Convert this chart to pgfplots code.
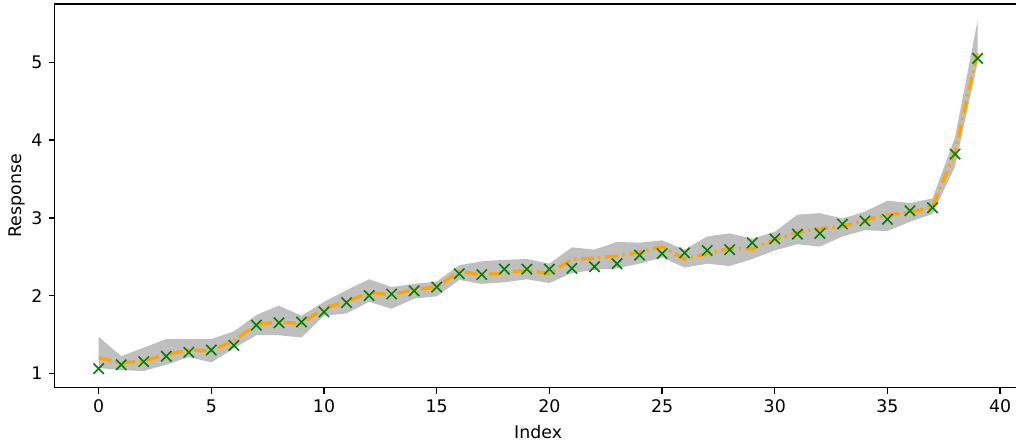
\documentclass[border=0pt]{standalone}
\usepackage{fontspec}
\setmainfont{DejaVu Sans}
\usepackage{pgfplots}
\pgfplotsset{compat=1.18}
\usepackage{pgfplotstable}
\usepgfplotslibrary{fillbetween}
\usetikzlibrary{calc}

\definecolor{mplorange}{HTML}{FFA500}
\definecolor{mplgreen}{HTML}{008000}
\definecolor{band}{HTML}{BFBFBF}

% idx, mean line, observed (x marks), band low, band high
\pgfplotstableread{
idx mean obs lo hi
0  1.20 1.06 1.07 1.47
1  1.13 1.11 1.04 1.22
2  1.16 1.15 1.03 1.33
3  1.24 1.22 1.11 1.44
4  1.30 1.27 1.21 1.44
5  1.29 1.30 1.14 1.44
6  1.42 1.36 1.32 1.54
7  1.63 1.62 1.49 1.75
8  1.66 1.65 1.49 1.87
9  1.64 1.66 1.46 1.74
10 1.84 1.79 1.74 1.92
11 1.92 1.91 1.77 2.07
12 2.04 2.00 1.92 2.21
13 2.01 2.02 1.83 2.11
14 2.08 2.06 1.96 2.15
15 2.11 2.11 1.99 2.18
16 2.31 2.28 2.20 2.39
17 2.27 2.27 2.15 2.44
18 2.29 2.34 2.17 2.46
19 2.33 2.34 2.21 2.47
20 2.28 2.34 2.16 2.41
21 2.47 2.35 2.29 2.62
22 2.48 2.37 2.33 2.59
23 2.51 2.41 2.35 2.69
24 2.56 2.52 2.41 2.68
25 2.63 2.54 2.49 2.71
26 2.47 2.55 2.36 2.59
27 2.54 2.58 2.41 2.76
28 2.61 2.59 2.38 2.80
29 2.60 2.68 2.47 2.73
30 2.72 2.73 2.58 2.82
31 2.81 2.79 2.66 3.04
32 2.86 2.80 2.63 3.06
33 2.89 2.92 2.76 2.99
34 2.97 2.96 2.84 3.08
35 3.04 2.98 2.83 3.22
36 3.07 3.09 2.95 3.19
37 3.14 3.13 3.05 3.25
38 3.85 3.82 3.66 4.04
39 5.14 5.05 5.00 5.54
}\data

\begin{document}
\begin{tikzpicture}
\begin{axis}[
  scale only axis,
  width=556.9pt, height=221pt,
  xmin=-1.95, xmax=40.95,
  ymin=0.815, ymax=5.75,
  xtick={0,5,...,40},
  ytick={1,2,3,4,5},
  tick align=outside,
  major tick length=3.5pt,
  every tick/.style={black, line width=0.8pt},
  axis line style={line width=0.8pt},
  xtick pos=bottom, ytick pos=left,
  tick label style={font=\fontsize{10}{12}\selectfont},
  label style={font=\fontsize{10}{12}\selectfont},
  /pgf/number format/assume math mode=true,
  xlabel={Index},
  ylabel={Response},
  ylabel shift=-3pt,
]
\addplot[draw=none, name path=lo, forget plot] table[x=idx, y=lo] {\data};
\addplot[draw=none, name path=hi, forget plot] table[x=idx, y=hi] {\data};
\addplot[fill=band, draw=none, forget plot] fill between[of=lo and hi];
\addplot[mplorange, line width=1.9pt, no marks,
  dash pattern=on 7.5pt off 2.6pt on 1.3pt off 2.6pt]
  table[x=idx, y=mean] {\data};
\addplot[only marks, mark=x, mark size=4.2pt, mplgreen,
  mark options={line width=0.9pt}]
  table[x=idx, y=obs] {\data};
\coordinate (sw) at (rel axis cs:0,0);
\coordinate (nw) at (rel axis cs:0,1);
\end{axis}
\pgfresetboundingbox
\path ($(sw)+(-31.5pt,-32.4pt)$) rectangle ($(nw)+(553.7pt,2.3pt)$);
\end{tikzpicture}
\end{document}
